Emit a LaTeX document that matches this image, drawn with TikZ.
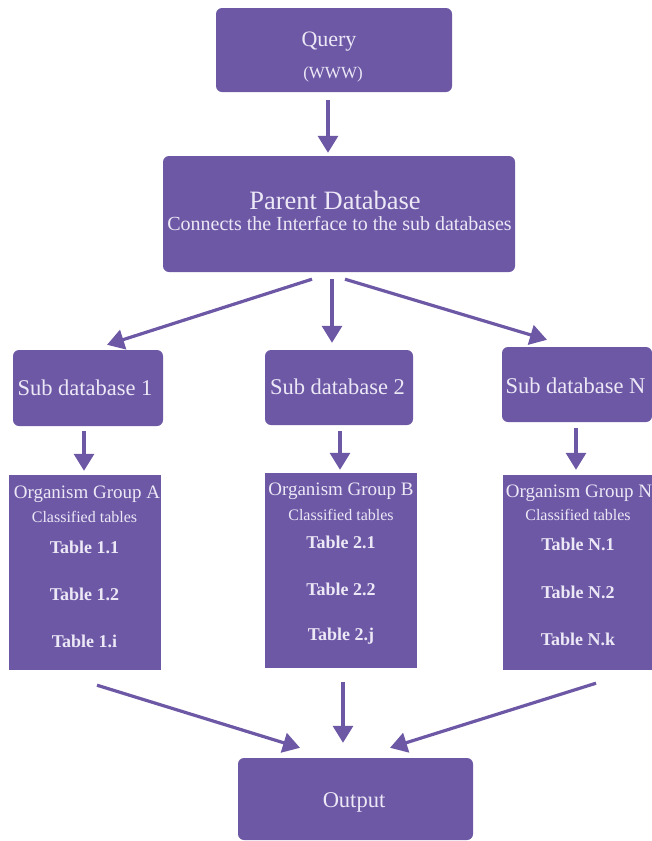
\documentclass[tikz,border=0pt]{standalone}
\usepackage{fontspec}
\setmainfont{Liberation Serif}
\usetikzlibrary{arrows.meta}
\definecolor{dbpurple}{RGB}{109,88,166}
\definecolor{dblabel}{RGB}{236,232,246}

\begin{document}
\begin{tikzpicture}[x=1pt,y=-1pt,
  box/.style={fill=dbpurple,rounded corners=6pt,inner sep=0pt},
  tabbox/.style={fill=dbpurple,inner sep=0pt},
  lbl/.style={text=dblabel,inner sep=0pt,anchor=base},
  arr/.style={draw=dbpurple,line width=3.2pt,-{Triangle[length=17pt,width=20pt]}}]
\useasboundingbox (0,0) rectangle (652,841);

\node[box,minimum width=236pt,minimum height=84pt] (query) at (334,50) {};
\node[box,minimum width=352pt,minimum height=116pt] (parent) at (339,214) {};
\node[box,minimum width=150pt,minimum height=76pt] (sub1) at (88,388) {};
\node[box,minimum width=148pt,minimum height=75pt] (sub2) at (339,387.5) {};
\node[box,minimum width=150pt,minimum height=75pt] (subN) at (577,384.5) {};
\node[tabbox,minimum width=152pt,minimum height=195pt] (tabA) at (85,572.5) {};
\node[tabbox,minimum width=152pt,minimum height=195pt] (tabB) at (341,570.5) {};
\node[tabbox,minimum width=149pt,minimum height=195pt] (tabN) at (577.5,572.5) {};
\node[box,minimum width=235pt,minimum height=82pt] (output) at (355.5,799) {};

\node[lbl,font=\fontsize{22}{26}\selectfont] (queryT) at (329,46) {Query};
\node[lbl,font=\fontsize{17}{20}\selectfont] (queryS) at (333,78) {(WWW)};
\node[lbl,font=\fontsize{26.5}{32}\selectfont,text depth=0pt] (parentT) at (335,209) {Parent Database};
\node[lbl,font=\fontsize{20}{24}\selectfont,text height=14pt] (parentS) at (339.5,230) {Connects the Interface to the sub databases};
\node[lbl,font=\fontsize{22.5}{26}\selectfont] (sub1T) at (85,395) {Sub database 1};
\node[lbl,font=\fontsize{22.5}{26}\selectfont] (sub2T) at (337.5,394) {Sub database 2};
\node[lbl,font=\fontsize{22.5}{26}\selectfont] (subNT) at (575.5,393) {Sub database N};

\node[lbl,font=\fontsize{19}{22}\selectfont] (grpA) at (87,498) {Organism Group A};
\node[lbl,font=\fontsize{16}{19}\selectfont] (clsA) at (84.5,522) {Classified tables};
\node[lbl,font=\fontsize{18}{21}\selectfont\bfseries] (tabA1) at (84.5,553) {Table 1.1};
\node[lbl,font=\fontsize{18}{21}\selectfont\bfseries] (tabA2) at (84.5,600) {Table 1.2};
\node[lbl,font=\fontsize{18}{21}\selectfont\bfseries] (tabA3) at (84.5,647) {Table 1.i};

\node[lbl,font=\fontsize{19}{22}\selectfont] (grpB) at (341,495) {Organism Group B};
\node[lbl,font=\fontsize{16}{19}\selectfont] (clsB) at (341,520) {Classified tables};
\node[lbl,font=\fontsize{18}{21}\selectfont\bfseries] (tabB1) at (341,548) {Table 2.1};
\node[lbl,font=\fontsize{18}{21}\selectfont\bfseries] (tabB2) at (341,595) {Table 2.2};
\node[lbl,font=\fontsize{18}{21}\selectfont\bfseries] (tabB3) at (341,640) {Table 2.j};

\node[lbl,font=\fontsize{19}{22}\selectfont] (grpN) at (579,497) {Organism Group N};
\node[lbl,font=\fontsize{16}{19}\selectfont] (clsN) at (578,520) {Classified tables};
\node[lbl,font=\fontsize{18}{21}\selectfont\bfseries] (tabN1) at (578,550) {Table N.1};
\node[lbl,font=\fontsize{18}{21}\selectfont\bfseries] (tabN2) at (578,598) {Table N.2};
\node[lbl,font=\fontsize{18}{21}\selectfont\bfseries] (tabN3) at (578,645) {Table N.k};

\node[lbl,font=\fontsize{22.5}{26}\selectfont] (outputT) at (354,807) {Output};

% arrows
\draw[arr] ([shift={(-6,8)}]query.south) -- ([shift={(-11,-3)}]parent.north);
\draw[arr] ([shift={(-27,7)}]parent.south) -- ([shift={(19,-5)}]sub1.north);
\draw[arr] ([shift={(-7,7)}]parent.south) -- ([shift={(-7,-7)}]sub2.north);
\draw[arr] ([shift={(6,7)}]parent.south) -- ([shift={(-30,-7)}]subN.north);
\draw[arr] ([shift={(-4,5)}]sub1.south) -- ([shift={(-1,-4)}]tabA.north);
\draw[arr] ([shift={(1,6)}]sub2.south) -- ([shift={(-1,-3)}]tabB.north);
\draw[arr] ([shift={(-1,6)}]subN.south) -- ([shift={(-1.5,-5)}]tabN.north);
\draw[arr] ([shift={(12,15)}]tabA.south) -- ([shift={(-55.5,-10)}]output.north);
\draw[arr] ([shift={(2,14)}]tabB.south) -- ([shift={(-12.5,-15)}]output.north);
\draw[arr] ([shift={(18.5,13)}]tabN.south) -- ([shift={(34.5,-10)}]output.north);
\end{tikzpicture}
\end{document}
